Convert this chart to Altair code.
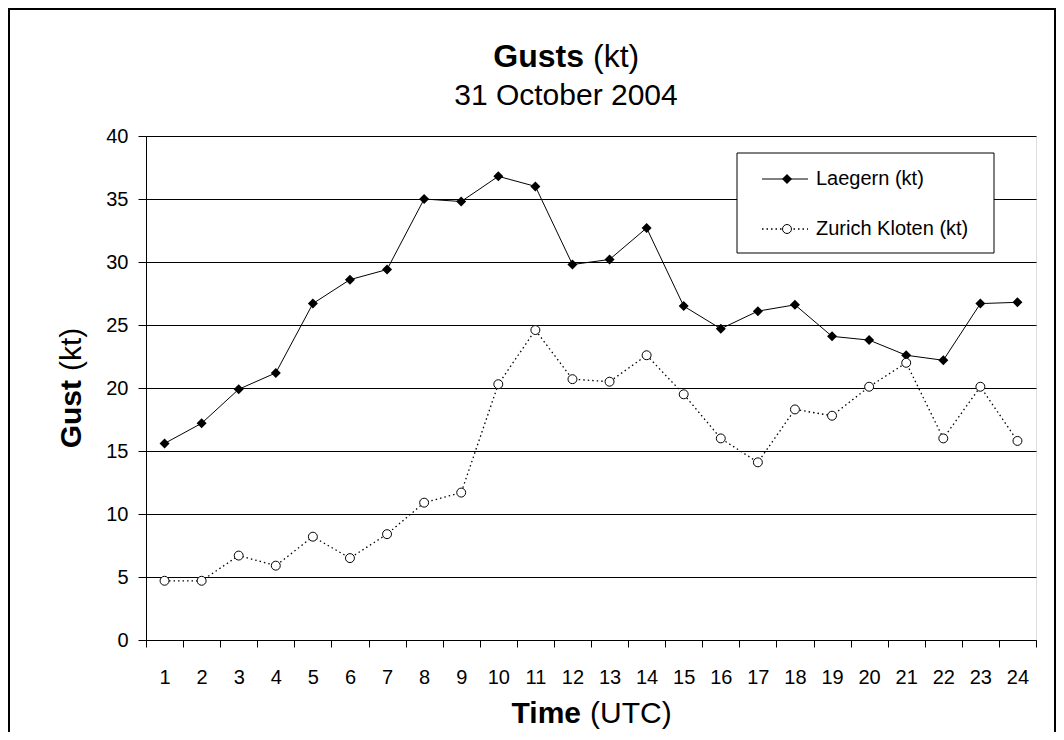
import altair as alt
import pandas as pd

hours = list(range(1, 25))
laegern = [15.6, 17.2, 19.9, 21.2, 26.7, 28.6, 29.4, 35.0, 34.8, 36.8, 36.0, 29.8,
           30.2, 32.7, 26.5, 24.7, 26.1, 26.6, 24.1, 23.8, 22.6, 22.2, 26.7, 26.8]
zurich = [4.7, 4.7, 6.7, 5.9, 8.2, 6.5, 8.4, 10.9, 11.7, 20.3, 24.6, 20.7,
          20.5, 22.6, 19.5, 16.0, 14.1, 18.3, 17.8, 20.1, 22.0, 16.0, 20.1, 15.8]
series_names = ["Laegern (kt)", "Zurich Kloten (kt)"]
y_ticks = [0, 5, 10, 15, 20, 25, 30, 35, 40]

FONT = "Liberation Sans, Arial, sans-serif"

df = pd.DataFrame({
    "hour": hours * 2,
    "gust": laegern + zurich,
    "series": [series_names[0]] * 24 + [series_names[1]] * 24,
})

W, H = 890, 504

x_enc = alt.X("hour:O", bandPosition=0.5,
              scale=alt.Scale(type="band", paddingInner=0, paddingOuter=0),
              axis=alt.Axis(title=None, labelAngle=0, tickBand="extent", grid=False,
                            labelFontSize=20, labelFont=FONT, tickSize=7, labelPadding=20,
                            labelColor="black", tickColor="black", domainColor="black"))
y_enc = alt.Y("gust:Q", scale=alt.Scale(domain=[0, 40], nice=False),
              axis=alt.Axis(title=None, values=y_ticks, grid=True, gridColor="black",
                            gridWidth=1.2, labelFontSize=20, labelFont=FONT, tickSize=8,
                            labelPadding=10, labelColor="black", tickColor="black",
                            domainColor="black"))

base = alt.Chart(df).encode(x=x_enc, y=y_enc)

line_l = base.transform_filter(alt.datum.series == series_names[0]).mark_line(
    color="black", strokeWidth=1)
pts_l = base.transform_filter(alt.datum.series == series_names[0]).mark_point(
    shape="diamond", filled=True, color="black", size=100, opacity=1)
line_z = base.transform_filter(alt.datum.series == series_names[1]).mark_line(
    color="black", strokeWidth=1.3, strokeDash=[1.5, 3])
pts_z = base.transform_filter(alt.datum.series == series_names[1]).mark_point(
    shape="circle", filled=True, fill="white", stroke="black", strokeWidth=1,
    size=80, opacity=1)

one = alt.Data(values=[{"a": 1}])


def txt(s, x, y, size, weight="normal", align="left", baseline="alphabetic", angle=0):
    kw = dict(text=s, fontSize=size, font=FONT, fontWeight=weight, align=align,
              baseline=baseline, color="black")
    if angle:
        kw["angle"] = angle
    return alt.Chart(one).mark_text(**kw).encode(x=alt.value(x), y=alt.value(y))


border = alt.Chart(one).mark_rect(fillOpacity=0, stroke="black", strokeWidth=2).encode(
    x=alt.value(-137), x2=alt.value(909), y=alt.value(-127), y2=alt.value(620))

# legend box
leg_box = alt.Chart(one).mark_rect(fill="white", stroke="black", strokeWidth=1).encode(
    x=alt.value(591), x2=alt.value(848), y=alt.value(17), y2=alt.value(117))
leg_line1 = alt.Chart(one).mark_rule(color="black", strokeWidth=1).encode(
    x=alt.value(616), x2=alt.value(662), y=alt.value(43))
leg_pt1 = alt.Chart(one).mark_point(shape="diamond", filled=True, color="black",
                                    size=100, opacity=1).encode(
    x=alt.value(641), y=alt.value(43))
leg_line2 = alt.Chart(one).mark_rule(color="black", strokeWidth=1.3,
                                     strokeDash=[1.5, 3]).encode(
    x=alt.value(616), x2=alt.value(662), y=alt.value(93))
leg_pt2 = alt.Chart(one).mark_point(shape="circle", filled=True, fill="white",
                                    stroke="black", strokeWidth=1, size=80,
                                    opacity=1).encode(
    x=alt.value(641), y=alt.value(93))
leg_t1 = txt(series_names[0], 670, 43, 20, baseline="middle")
leg_t2 = txt(series_names[1], 670, 93, 20, baseline="middle")

# titles (mixed bold / regular)
t_main_b = txt("Gusts", 438, -69, 32, weight="bold", align="right")
t_main_r = txt("(kt)", 447, -69, 32, align="left")
t_sub = txt("31 October 2004", 420, -31, 30, align="center")
t_x_b = txt("Time", 435, 587, 30, weight="bold", align="right")
t_x_r = txt("(UTC)", 444, 587, 30, align="left")
t_y_b = txt("Gust", -74, 244, 30, weight="bold", align="right", baseline="middle", angle=270)
t_y_r = txt("(kt)", -74, 235, 30, align="left", baseline="middle", angle=270)

chart = alt.layer(
    border, line_l, line_z, pts_l, pts_z,
    leg_box, leg_line1, leg_pt1, leg_line2, leg_pt2, leg_t1, leg_t2,
    t_main_b, t_main_r, t_sub, t_x_b, t_x_r, t_y_b, t_y_r,
).properties(
    width=W, height=H,
    autosize=alt.AutoSizeParams(type="none"),
    padding={"left": 138, "top": 128, "right": 20, "bottom": 92},
).configure_view(
    stroke="black", strokeWidth=1
).configure(background="white")

chart.save("out.html", embed_options={"renderer": "svg", "actions": False})
